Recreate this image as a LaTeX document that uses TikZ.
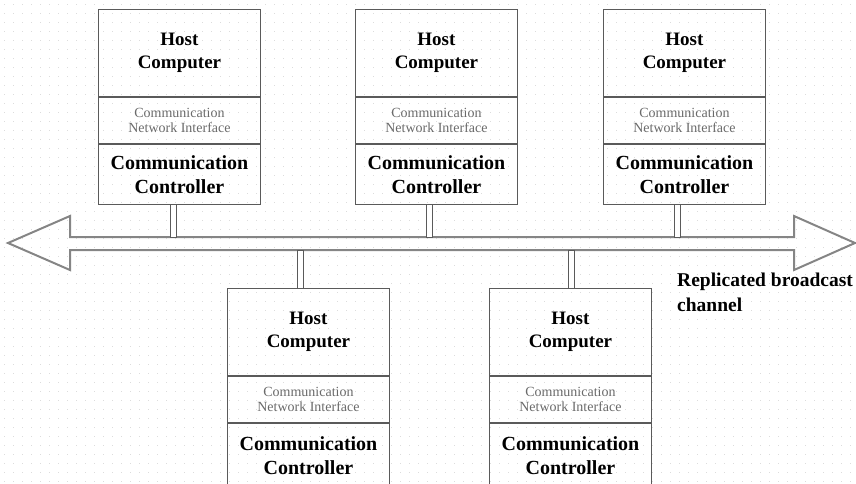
\documentclass[tikz,border=0pt]{standalone}
\usepackage{fontspec}
\setmainfont{Liberation Serif}
\usetikzlibrary{calc}
\definecolor{boxline}{HTML}{5A5A5A}
\definecolor{busline}{HTML}{858585}
\definecolor{cnitext}{HTML}{6A6A6A}
\definecolor{dotgrid}{HTML}{DCDCDC}
\tikzset{
  hostpart/.style={draw=boxline, line width=0.9pt, anchor=north west, minimum width=162pt,
    inner sep=0pt, align=center, font=\fontsize{19}{23.5}\selectfont\bfseries},
  ctrlpart/.style={hostpart, font=\fontsize{20}{24}\selectfont\bfseries},
  cnipart/.style={draw=boxline, line width=0.9pt, anchor=north west, minimum width=162pt,
    inner sep=0pt, align=center, text=cnitext, font=\fontsize{14}{15}\selectfont},
  tapbox/.style={draw=boxline, fill=white, line width=0.8pt},
  bus/.style={draw=busline, line width=2pt, line join=miter},
  caption/.style={anchor=north west, align=left, inner sep=0pt, font=\fontsize{19.5}{25}\selectfont\bfseries}
}
\newcommand{\hoststack}[4]{%
  % #1 name suffix, #2 left x, #3 top y, #4 controller height
  \node[hostpart, minimum height=87pt] (h#1) at (#2,#3) {Host\\Computer};
  \node[cnipart, minimum height=46pt] (n#1) at (h#1.south west) {Communication\\Network Interface};
  \node[ctrlpart, minimum height=#4] (c#1) at (n#1.south west) {Communication\\Controller};
}
\begin{document}
\begin{tikzpicture}[x=1pt, y=-1pt]
  \useasboundingbox (0,0) rectangle (856,483);
  % faint dotted canvas
  \foreach \i in {0,...,95} {
    \foreach \j in {0,...,53} {
      \fill[dotgrid] (\i*9+4,\j*9+4) rectangle ++(1.2,1.2);
    }
  }
  % broadcast channel: two-headed hollow arrow
  \draw[bus] (8,243) -- (70,216) -- (70,237) -- (794,237) -- (794,216) -- (855,243)
    -- (794,270) -- (794,250) -- (70,250) -- (70,270) -- cycle;
  % taps on the channel
  \coordinate (t1) at (173,237);
  \coordinate (t2) at (429,237);
  \coordinate (t3) at (677,237);
  \coordinate (t4) at (300,250);
  \coordinate (t5) at (571,250);
  % node stacks
  \hoststack{1}{98}{9}{60pt}
  \hoststack{2}{355}{9}{60pt}
  \hoststack{3}{603}{9}{60pt}
  \hoststack{4}{227}{288}{64pt}
  \hoststack{5}{489}{288}{64pt}
  % connections to the channel
  \draw[tapbox] ($(c1.south -| t1)+(-3,0)$) rectangle ($(t1)+(3,0)$);
  \draw[tapbox] ($(c2.south -| t2)+(-3,0)$) rectangle ($(t2)+(3,0)$);
  \draw[tapbox] ($(c3.south -| t3)+(-3,0)$) rectangle ($(t3)+(3,0)$);
  \draw[tapbox] ($(t4)+(-3,0)$) rectangle ($(h4.north -| t4)+(3,0)$);
  \draw[tapbox] ($(t5)+(-3,0)$) rectangle ($(h5.north -| t5)+(3,0)$);
  % channel label
  \node[caption] (lbl) at (677,273) {Replicated broadcast\\channel};
\end{tikzpicture}
\end{document}
